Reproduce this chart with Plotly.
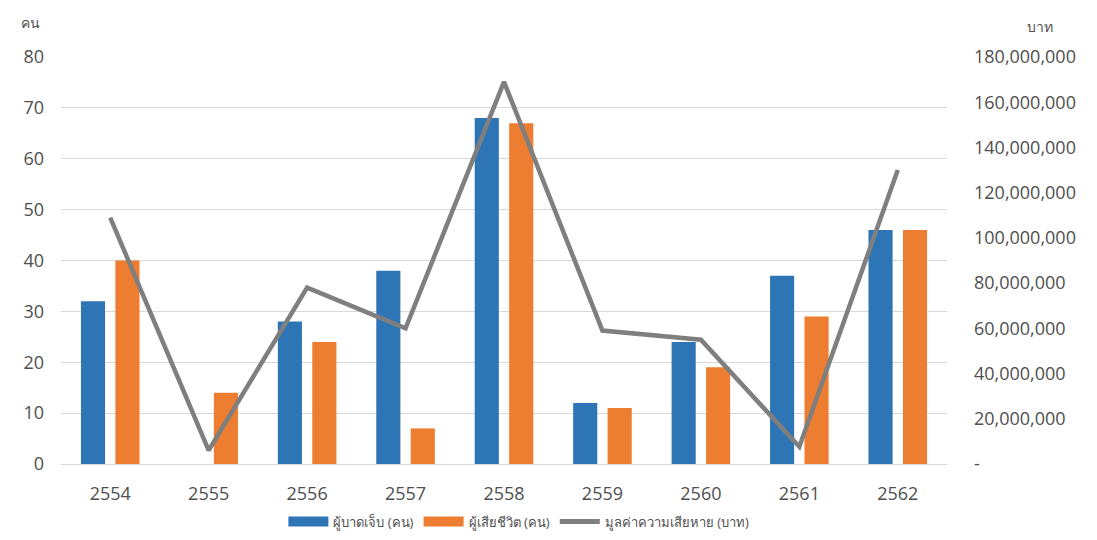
import plotly.graph_objects as go

# Yearly figures (Thai Buddhist-era years)
years = ["2554", "2555", "2556", "2557", "2558", "2559", "2560", "2561", "2562"]
injured = [32, 0, 28, 38, 68, 12, 24, 37, 46]          # ผู้บาดเจ็บ (คน)
deaths = [40, 14, 24, 7, 67, 11, 19, 29, 46]            # ผู้เสียชีวิต (คน)
damage = [109_000_000, 6_000_000, 78_000_000, 60_000_000, 169_000_000,
          59_000_000, 55_000_000, 7_600_000, 130_000_000]  # มูลค่าความเสียหาย (บาท)

left_ticks = [0, 10, 20, 30, 40, 50, 60, 70, 80]
right_ticks = [0, 20_000_000, 40_000_000, 60_000_000, 80_000_000,
               100_000_000, 120_000_000, 140_000_000, 160_000_000, 180_000_000]
right_tick_text = ["-" if v == 0 else f"{v:,}" for v in right_ticks]

names = ["ผู้บาดเจ็บ (คน)", "ผู้เสียชีวิต (คน)", "มูลค่าความเสียหาย (บาท)"]
BLUE, ORANGE, GREY = "#2E75B6", "#ED7D31", "#7F7F7F"
TXT = "#4F4F4F"
FONT = "Open Sans, Noto Sans, sans-serif"

fig = go.Figure()
fig.add_trace(go.Bar(x=years, y=injured, marker=dict(color=BLUE, line_width=0),
                     name=names[0], showlegend=False))
fig.add_trace(go.Bar(x=years, y=deaths, marker=dict(color=ORANGE, line_width=0),
                     name=names[1], showlegend=False))
fig.add_trace(go.Scatter(x=years, y=damage, mode="lines", yaxis="y2",
                         line=dict(color=GREY, width=4.5), name=names[2],
                         showlegend=False))

# legend entries drawn as wide swatches
for nm, col, w in [(names[0], BLUE, 11), (names[1], ORANGE, 11), (names[2], GREY, 5)]:
    fig.add_trace(go.Scatter(x=[None], y=[None], mode="lines", name=nm,
                             line=dict(color=col, width=w)))

fig.update_layout(
    width=1097, height=540,
    margin=dict(l=61, r=150, t=57, b=76, autoexpand=False),
    paper_bgcolor="white", plot_bgcolor="white",
    font=dict(family=FONT, color=TXT, size=18),
    barmode="group", bargap=0.30, bargroupgap=0.30,
    xaxis=dict(showgrid=False, showline=False, ticks="", ticklabelstandoff=17,
               tickfont=dict(size=18, color=TXT)),
    yaxis=dict(range=[0, 80], tickvals=left_ticks, showgrid=True,
               gridcolor="#D9D9D9", gridwidth=1, zeroline=True,
               zerolinecolor="#D9D9D9", zerolinewidth=1, showline=False,
               ticklabelstandoff=16, tickfont=dict(size=18, color=TXT)),
    yaxis2=dict(range=[0, 180_000_000], overlaying="y", side="right",
                tickvals=right_ticks, ticktext=right_tick_text, showgrid=False,
                zeroline=False, showline=False, ticklabelstandoff=26,
                tickfont=dict(size=18, color=TXT)),
    legend=dict(orientation="h", xref="container", yref="container",
                x=0.473, y=0.034, xanchor="center", yanchor="middle",
                font=dict(size=13, color=TXT), itemwidth=40,
                traceorder="normal", bgcolor="rgba(0,0,0,0)"),
    annotations=[
        dict(text="คน", xref="paper", yref="paper", x=-0.034, y=1.0,
             yshift=35, xanchor="center", yanchor="middle", showarrow=False,
             font=dict(size=14, color=TXT)),
        dict(text="บาท", xref="paper", yref="paper", x=1.105, y=1.0,
             yshift=31, xanchor="center", yanchor="middle", showarrow=False,
             font=dict(size=14, color=TXT)),
    ],
)

fig.write_html("out.html")
